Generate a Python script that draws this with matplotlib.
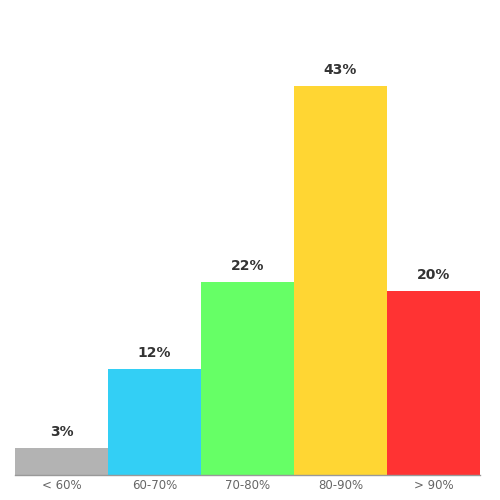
import matplotlib
matplotlib.use("Agg")
import matplotlib.pyplot as plt

categories = ["< 60%", "60-70%", "70-80%", "80-90%", "> 90%"]
values = [3.0, 11.7, 21.3, 43.0, 20.3]
labels = ["3%", "12%", "22%", "43%", "20%"]
colors = ["#b3b3b3", "#33cff5", "#66ff66", "#ffd633", "#ff3333"]

fig = plt.figure(figsize=(5, 5), dpi=100)
ax = fig.add_axes([0.03, 0.05, 0.93, 0.90])

x = range(len(categories))
bars = ax.bar(x, values, width=1.0, color=colors)

for b, v, lab in zip(bars, values, labels):
    ax.annotate(lab, (b.get_x() + b.get_width() / 2, v), xytext=(0, 11.5),
                textcoords="offset points", ha="center", va="center",
                fontsize=10, fontweight="bold", color="#333333")

ax.set_xlim(-0.5, len(categories) - 0.5)
ax.set_ylim(0, 49.7)
ax.set_xticks(list(x))
ax.set_xticklabels(categories, fontsize=8.5, color="#666666")
ax.tick_params(axis="x", length=0, pad=3)
ax.set_yticks([])
for s in ["top", "right", "left"]:
    ax.spines[s].set_visible(False)
ax.spines["bottom"].set_color("#999999")
ax.spines["bottom"].set_linewidth(1.0)

fig.savefig("out.png", dpi=100)
